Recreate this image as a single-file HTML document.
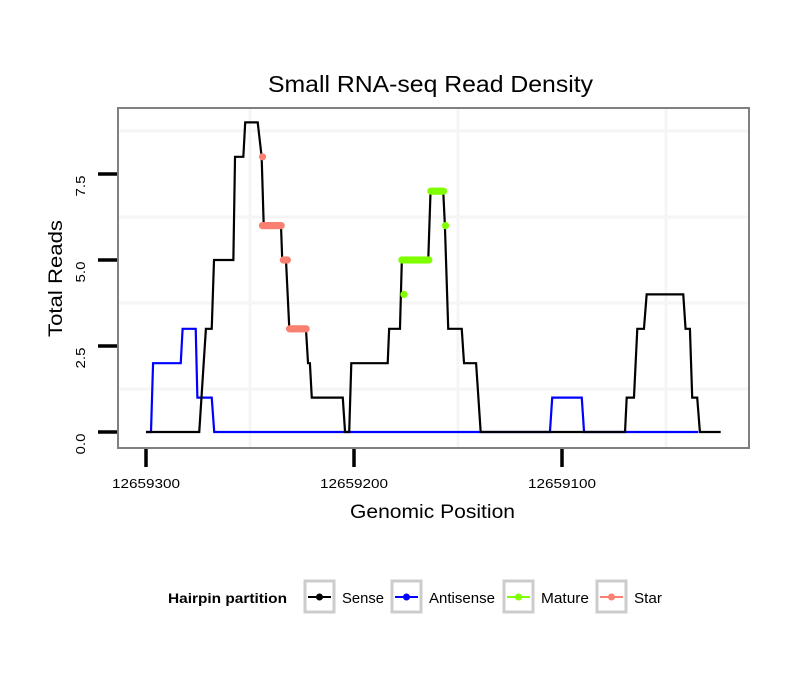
<!DOCTYPE html>
<html><head><meta charset="utf-8"><style>
body{margin:0;background:#fff}
svg{display:block;font-family:"Liberation Sans",sans-serif}
</style></head><body>
<svg id="chart" width="810" height="690" viewBox="0 0 810 690" xmlns="http://www.w3.org/2000/svg">
<rect width="810" height="690" fill="#fff"/>
<text x="268" y="92" font-size="23" textLength="325" lengthAdjust="spacingAndGlyphs">Small RNA-seq Read Density</text>
<g id="grid"></g>
<g id="series"></g>
<rect x="118" y="108" width="631" height="340" fill="none" stroke="#808080" stroke-width="2"/>
<g id="axes"></g>
<text x="350" y="518" font-size="19" textLength="165" lengthAdjust="spacingAndGlyphs">Genomic Position</text>
<text transform="translate(62,337) rotate(-90)" font-size="19" textLength="117" lengthAdjust="spacingAndGlyphs">Total Reads</text>
<g>
<text x="168" y="603" font-size="14" font-weight="bold" textLength="119" lengthAdjust="spacingAndGlyphs">Hairpin partition</text>
<g><rect x="305" y="581" width="29" height="31" fill="#fff" stroke="#ccc" stroke-width="3"/><line x1="308" y1="597" x2="331" y2="597" stroke="#000" stroke-width="2"/><circle cx="319.5" cy="597" r="3.5" fill="#000"/><text x="342" y="603" font-size="15" textLength="42" lengthAdjust="spacingAndGlyphs">Sense</text></g>
<g><rect x="392" y="581" width="29" height="31" fill="#fff" stroke="#ccc" stroke-width="3"/><line x1="395" y1="597" x2="418" y2="597" stroke="#00f" stroke-width="2"/><circle cx="406.5" cy="597" r="3.5" fill="#00f"/><text x="429" y="603" font-size="15" textLength="66" lengthAdjust="spacingAndGlyphs">Antisense</text></g>
<g><rect x="504" y="581" width="29" height="31" fill="#fff" stroke="#ccc" stroke-width="3"/><line x1="507" y1="597" x2="530" y2="597" stroke="#7fff00" stroke-width="2"/><circle cx="518.5" cy="597" r="3.5" fill="#7fff00"/><text x="541" y="603" font-size="15" textLength="48" lengthAdjust="spacingAndGlyphs">Mature</text></g>
<g><rect x="597" y="581" width="29" height="31" fill="#fff" stroke="#ccc" stroke-width="3"/><line x1="600" y1="597" x2="623" y2="597" stroke="#fa8072" stroke-width="2"/><circle cx="611.5" cy="597" r="3.5" fill="#fa8072"/><text x="634" y="603" font-size="15" textLength="28" lengthAdjust="spacingAndGlyphs">Star</text></g>
</g>
</svg>
<script>
const senseX=[12659300,12659274.4,12659271.2,12659268.4,12659267.3,12659258,12659257.2,12659253.2,12659252.3,12659246.3,12659244.4,12659243.4,12659235.1,12659234.5,12659232.7,12659231.1,12659223.1,12659222.1,12659221.2,12659220.3,12659205.4,12659204.3,12659202.3,12659201.3,12659183.8,12659183.1,12659177.9,12659177,12659164.3,12659163.2,12659157.1,12659156.3,12659154.7,12659148.2,12659147.1,12659141.3,12659139.1,12659069.7,12659068.9,12659065.4,12659063.8,12659060.6,12659059.3,12659041.7,12659040.6,12659038.5,12659037.4,12659035,12659033.7,12659023.7];
const senseY=[0,0,3,3,5,5,8,8,9,9,8,6,6,5,5,3,3,2,2,1,1,0,0,2,2,3,3,5,5,7,7,6,3,3,2,2,0,0,1,1,3,3,4,4,3,3,1,1,0,0];
const antiX=[12659300,12659297.6,12659296.6,12659283.3,12659282.4,12659276.1,12659275.3,12659268.4,12659267.2,12659105.8,12659104.7,12659090.5,12659089.4,12659034.5];
const antiY=[0,0,2,2,3,3,1,1,0,0,1,1,0,0];
const starStart=[12659244,12659244,12659234,12659231];
const starEnd=[12659244,12659235,12659232,12659223];
const starVal=[8,6,5,3];
const matStart=[12659176,12659177,12659163,12659156];
const matEnd=[12659176,12659164,12659157,12659156];
const matVal=[4,5,7,6];
const yTicks=[0,2.5,5,7.5];
const yTickLabels=["0.0","2.5","5.0","7.5"];
const xTicks=[12659300,12659200,12659100];
const xTickLabels=["12659300","12659200","12659100"];
const yGrid=[1.25,3.75,6.25,8.75];
const xGrid=[12659250,12659150,12659050];

const NS="http://www.w3.org/2000/svg";
const xs=v=>146+(12659300-v)*2.08;
const ys=v=>432-v*34.4;
function mk(tag,attrs,parent){const e=document.createElementNS(NS,tag);for(const k in attrs)e.setAttribute(k,attrs[k]);parent.appendChild(e);return e;}
const grid=document.getElementById('grid'),series=document.getElementById('series'),axes=document.getElementById('axes');
yGrid.forEach(v=>{const l=mk('line',{x1:119,x2:748,y1:ys(v),y2:ys(v),stroke:'#f5f5f5','stroke-width':3},grid);

});
xGrid.forEach(v=>{const l=mk('line',{x1:xs(v),x2:xs(v),y1:109,y2:447,stroke:'#f5f5f5','stroke-width':3},grid);

});
function line(X,Y,color,name){const p=mk('polyline',{points:X.map((x,i)=>xs(x)+','+ys(Y[i])).join(' '),fill:'none',stroke:color,'stroke-width':2.2,'stroke-linejoin':'miter'},series);

}
line(antiX,antiY,'#0000ff','antisense-line');
line(senseX,senseY,'#000000','sense-line');
function dots(S,E,V,color,name){S.forEach((s,i)=>{for(let p=s;p>=E[i];p-=0.5){const c=mk('circle',{cx:xs(p),cy:ys(V[i]),r:3.6,fill:color},series);

}});}
dots(starStart,starEnd,starVal,'#fa8072','star-point');
dots(matStart,matEnd,matVal,'#7fff00','mature-point');
yTicks.forEach((v,i)=>{const t=mk('line',{x1:98,x2:117,y1:ys(v),y2:ys(v),stroke:'#000','stroke-width':3.5},axes);


const tx=mk('text',{transform:`translate(85,${ys(v)+12}) rotate(-90)`,'font-size':13,'text-anchor':'middle',textLength:21,lengthAdjust:'spacingAndGlyphs',fill:'#000'},axes);tx.textContent=yTickLabels[i];

});
xTicks.forEach((v,i)=>{const t=mk('line',{x1:xs(v),x2:xs(v),y1:449,y2:467,stroke:'#000','stroke-width':3.5},axes);


const tx=mk('text',{x:xs(v),y:488,'font-size':13,'text-anchor':'middle',textLength:68,lengthAdjust:'spacingAndGlyphs'},axes);tx.textContent=xTickLabels[i];

});
</script>
</body></html>
